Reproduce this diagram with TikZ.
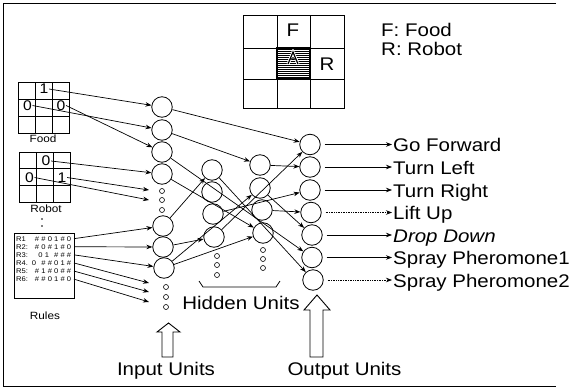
\documentclass[tikz,border=0pt]{standalone}
\usepackage{fontspec}
\setmainfont{Liberation Sans}[FakeStretch=1.12]
\usetikzlibrary{arrows.meta}
\newcommand\rc[1]{\makebox[6.4pt]{#1}}
\newcommand\rgap{\makebox[3pt]{}}
\begin{document}
\begin{tikzpicture}[x=1pt,y=-1pt,
  unit/.style={circle,draw,line width=0.8pt,minimum size=20.5pt,inner sep=0pt},
  dotu/.style={circle,draw,line width=0.6pt,minimum size=5pt,inner sep=0pt},
  conn/.style={-{Stealth[length=6pt,width=4.5pt]},line width=0.7pt},
  big/.style={font=\fontsize{18.3}{20}\selectfont,inner sep=0pt,text height=14pt,text depth=0pt},
  lbl/.style={big,anchor=west},
  digit/.style={font=\fontsize{14}{14}\selectfont,inner sep=0.5pt},
  small/.style={font=\fontsize{10.5}{12}\selectfont,inner sep=0pt},
  rtxt/.style={font=\fontsize{6.8}{8}\selectfont,inner sep=0pt,anchor=base west},
  rpat/.style={font=\fontsize{6.8}{8}\selectfont,inner sep=0pt,anchor=base east},
  thin/.style={line width=0.8pt},
  hollow/.style={line width=0.9pt,fill=white}
]
\useasboundingbox (0,0) rectangle (570,388);
\draw[line width=1pt] (556,3) -- (3,3) -- (3,386) -- (556,386);

% ---- top grid
\foreach \yy in {49.5,51.5,...,78.5} \draw[line width=0.9pt] (277,\yy) -- (310,\yy);
\draw[white,line width=3pt] (288,64) -- (293,52) -- (298,64);
\draw[line width=1.2pt] (288,64) -- (293,52) -- (298,64) (290.3,59) -- (295.7,59);
\draw[thin] (243,15) rectangle (344,108);
\foreach \xx in {277,310} \draw[thin] (\xx,15) -- (\xx,108);
\foreach \yy in {48,79} \draw[thin] (243,\yy) -- (344,\yy);
\draw[line width=1.3pt] (277,48) rectangle (310,79);
\node[big] (gF) at (293,29) {F};
\node[big] (gR) at (327,63) {R};
\node[lbl] (lF) at (381,29) {F: Food};
\node[lbl] (lR) at (381,48) {R: Robot};

% ---- food grid
\draw[thin] (18,82) rectangle (69,133);
\foreach \xx in {35,52} \draw[thin] (\xx,82) -- (\xx,133);
\foreach \yy in {99,116} \draw[thin] (18,\yy) -- (69,\yy);
\node[digit] (f1) at (44,89) {1};
\node[digit] (f2) at (27.5,105.5) {0};
\node[digit] (f3) at (61,105.5) {0};
\node[small] (food) at (43,139) {Food};

% ---- robot grid
\draw[thin] (19,152) rectangle (70,202);
\foreach \xx in {36,53} \draw[thin] (\xx,152) -- (\xx,202);
\foreach \yy in {168.7,185.3} \draw[thin] (19,\yy) -- (70,\yy);
\node[digit] (r1) at (46,161) {0};
\node[digit] (r2) at (29.5,177.5) {0};
\node[digit] (r3) at (62,177.5) {1};
\node[small] (robot) at (46,209) {Robot};
\fill (42,219) circle (0.9pt);
\fill (42,226) circle (0.9pt);

% ---- rules
\draw[thin] (14,233) rectangle (74,298);
\node[rtxt] (n1) at (16,241) {R1};
\node[rpat] (p1) at (72.5,241) {\rc{\#}\rc{\#}\rc{0}\rc{1}\rc{\#}\rc{0}};
\node[rtxt] (n2) at (16,249.1) {R2:};
\node[rpat] (p2) at (72.5,249.1) {\rc{\#}\rc{0}\rc{\#}\rc{1}\rc{\#}\rc{0}};
\node[rtxt] (n3) at (16,257.2) {R3:};
\node[rpat] (p3) at (72.5,257.2) {\rc{0}\rc{1}\rgap\rc{\#}\rc{\#}\rc{\#}};
\node[rtxt] (n4) at (16,265.3) {R4.};
\node[rpat] (p4) at (72.5,265.3) {\rc{0}\rgap\rc{\#}\rc{\#}\rc{0}\rc{1}\rc{\#}};
\node[rtxt] (n5) at (16,273.4) {R5:};
\node[rpat] (p5) at (72.5,273.4) {\rc{\#}\rc{1}\rc{\#}\rc{0}\rc{\#}\rc{\#}};
\node[rtxt] (n6) at (16,281.5) {R6:};
\node[rpat] (p6) at (72.5,281.5) {\rc{\#}\rc{\#}\rc{0}\rc{1}\rc{\#}\rc{0}};
\node[small] (rules) at (45,316) {Rules};

% ---- input units
\node[unit] (i1) at (162,107) {};
\node[unit] (i2) at (162,130) {};
\node[unit] (i3) at (162,152) {};
\node[unit] (i4) at (162,174) {};
\node[unit] (i5) at (163,226) {};
\node[unit] (i6) at (163,247) {};
\node[unit] (i7) at (164,268) {};
\node[dotu] (di1) at (162,191) {};
\node[dotu] (di2) at (162,200) {};
\node[dotu] (di3) at (162,210) {};
\node[dotu] (di4) at (166,287) {};
\node[dotu] (di5) at (166,297) {};
\node[dotu] (di6) at (166,307) {};

% ---- hidden units
\node[unit] (h1a) at (212,170) {};
\node[unit] (h1b) at (212,192) {};
\node[unit] (h1c) at (213,214) {};
\node[unit] (h1d) at (214,237) {};
\node[dotu] at (217,256) {};
\node[dotu] at (217,265) {};
\node[dotu] at (217,275) {};
\node[unit] (h2a) at (260,165) {};
\node[unit] (h2b) at (260,188) {};
\node[unit] (h2c) at (262,210) {};
\node[unit] (h2d) at (263,233) {};
\node[dotu] at (263,250) {};
\node[dotu] at (263,259) {};
\node[dotu] at (263,268) {};

% ---- output units
\node[unit] (o1) at (310,144.5) {};
\node[unit] (o2) at (310,167) {};
\node[unit] (o3) at (310,190) {};
\node[unit] (o4) at (311,212.5) {};
\node[unit] (o5) at (312,235) {};
\node[unit] (o6) at (312,257.5) {};
\node[unit] (o7) at (313,280) {};
\node[lbl] (l1) at (393,144.5) {Go Forward};
\node[lbl] (l2) at (393,167) {Turn Left};
\node[lbl] (l3) at (393,190) {Turn Right};
\node[lbl] (l4) at (393,212.5) {Lift Up};
\node[lbl] (l5) at (393,235) {\itshape Drop Down};
\node[lbl] (l6) at (393,257.5) {Spray Pheromone1};
\node[lbl] (l7) at (393,280) {Spray Pheromone2};
\draw[conn] ([xshift=4pt]o1.east) -- ([xshift=-1pt]l1.west);
\draw[conn] ([xshift=4pt]o2.east) -- ([xshift=-1pt]l2.west);
\draw[conn] ([xshift=4pt]o3.east) -- ([xshift=-1pt]l3.west);
\draw[conn,densely dotted] ([xshift=4pt]o4.east) -- ([xshift=-1pt]l4.west);
\draw[conn] ([xshift=4pt]o5.east) -- ([xshift=-1pt]l5.west);
\draw[conn] ([xshift=4pt]o6.east) -- ([xshift=-1pt]l6.west);
\draw[conn,densely dotted] ([xshift=4pt]o7.east) -- ([xshift=-1pt]l7.west);

% ---- inputs to input units
\coordinate (t1) at (149,190);
\coordinate (t2) at (149,200);
\coordinate (t3) at (149,283);
\coordinate (t4) at (149,292);
\coordinate (t5) at (149,302);
\draw[conn] (f1.east) -- (i1);
\draw[conn] (f2.east) -- (i2);
\draw[conn] (f3.east) -- (i3);
\draw[conn] (r1.east) -- (i4);
\draw[conn] (r3.east) -- (t1);
\draw[conn] (r2.east) -- (t2);
\draw[conn] ([xshift=1.5pt]p1.east) -- (i5);
\draw[conn] ([xshift=1.5pt]p2.east) -- (i6);
\draw[conn] ([xshift=1.5pt]p3.east) -- (i7);
\draw[conn] ([xshift=1.5pt]p4.east) -- (t3);
\draw[conn] ([xshift=1.5pt]p5.east) -- (t4);
\draw[conn] ([xshift=1.5pt]p6.east) -- (t5);

% ---- network connections
\draw[conn] (i1) -- (o1);
\draw[conn] (i2) -- (h2a);
\draw[conn] (i3) -- (o6);
\draw[conn] (i4) -- (h2d);
\draw[conn] (i5) -- (h1a);
\draw[conn] (i6) -- (h1d);
\draw[conn] (i7) -- (h2b);
\draw[conn] (i7) -- (h2d);
\draw[conn] (h1a) -- (o7);
\draw[conn] (h1c) -- (o3);
\draw[conn] (h1d) -- (o1);
\draw[conn] (h2a) -- (o2);
\draw[conn] (h2b) -- (o5);
\draw[conn] (h2c) -- (o4);

% ---- brace and captions
\draw[line width=0.8pt] (199,281) -- (203,287) -- (276,287) -- (280,281);
\node[big] (hid) at (241,302) {Hidden Units};
\node[big] (inu) at (166,368) {Input Units};
\node[big] (outu) at (344.5,368) {Output Units};
\draw[hollow] (162,357) -- (162,332) -- (157,332) -- (168.5,323) -- (180,332) -- (173,332) -- (173,357) -- cycle;
\draw[hollow] (310,357) -- (310,310) -- (304,310) -- (317,295) -- (330,310) -- (323,310) -- (323,357) -- cycle;
\end{tikzpicture}
\end{document}
